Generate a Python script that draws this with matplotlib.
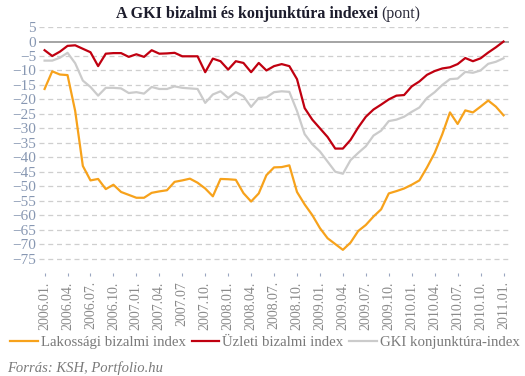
import numpy as np
import matplotlib
matplotlib.use("Agg")
import matplotlib.pyplot as plt

# monthly data, 2006.01 - 2011.01
lakossagi = [-16.4, -10.3, -11.4, -11.6, -24, -43, -48, -47.5, -51, -49.5,
             -52, -53, -54, -54, -52.3, -51.8, -51.4, -48.5, -48, -47.4,
             -48.8, -50.8, -53.5, -47.5, -47.6, -47.8, -52.4, -55.3, -52.5, -46.2,
             -43.5, -43.4, -42.8, -52, -56.3, -60, -64.5, -68, -70, -72,
             -69.5, -65.5, -63.4, -60.5, -58, -52.5, -51.7, -50.8, -49.5, -48,
             -43.5, -38.5, -32, -24.5, -28.5, -23.8, -24.5, -22.5, -20.4, -22.5,
             -25.5]
uzleti = [-3, -5, -3.5, -1.5, -1.3, -2.5, -3.7, -8.5, -4.2, -4,
          -4, -5.3, -4.4, -5.3, -3, -4.2, -4.1, -3.9, -5.1, -5.1,
          -5.1, -10.6, -5.9, -6.8, -9.7, -6.8, -7.4, -10.6, -7.4, -10,
          -8.5, -7.8, -8.5, -13, -23, -27, -30, -33, -37, -37,
          -34, -29.7, -26, -23.5, -21.8, -20, -18.7, -18.5, -15.5, -13.8,
          -11.5, -10.2, -9.3, -8.9, -7.8, -5.7, -6.8, -5.8, -3.8, -2,
          0]
gki = [-6.6, -6.6, -5.6, -3.9, -7.5, -13.5, -15.7, -18.7, -16, -16,
       -16.2, -17.8, -17.5, -18, -15.7, -16.4, -16.4, -15.5, -16, -16.2,
       -16.4, -21.2, -18.3, -17.2, -19.5, -17.5, -18.9, -22.6, -19.5, -19.3,
       -17.5, -17.2, -17.4, -24, -32, -35.5, -38, -41.5, -45, -45.7,
       -41, -38.5, -36.2, -32.5, -30.8, -27.5, -27, -26, -24.3, -22.8,
       -19.5, -17.5, -15, -13, -12.8, -10.5, -10.8, -10, -7.7, -7,
       -5.8]
tick_labels = ["2006.01.", "2006.04.", "2006.07.", "2006.10.", "2007.01.",
               "2007.04.", "2007.07", "2007.10.", "2008.01.", "2008.04.",
               "2008.07.", "2008.10.", "2009.01.", "2009.04.", "2009.07.",
               "2009.10.", "2010.01.", "2010.04.", "2010.07.", "2010.10.",
               "2011.01."]

plt.rcParams['font.family'] = ['Liberation Serif', 'DejaVu Serif']

fig = plt.figure(figsize=(5.25, 3.76), dpi=100)
ax = fig.add_axes([0.074, 0.274, 0.896, 0.654])

x = np.arange(len(lakossagi))
ax.plot(x, lakossagi, color='#f7a21b', lw=1.6, label='Lakossági bizalmi index', zorder=3)
ax.plot(x, uzleti, color='#c00010', lw=1.6, label='Üzleti bizalmi index', zorder=4)
ax.plot(x, gki, color='#cbcbcb', lw=1.6, label='GKI konjunktúra-index', zorder=2)

ax.set_xlim(-0.75, 60.75)
ax.set_ylim(-80, 5)
ax.set_yticks(np.arange(-75, 6, 5))
# dashed grid, solid zero line
for v in np.arange(-75, 6, 5):
    if v == 0:
        ax.axhline(0, color='#8c8c8c', lw=1.1, zorder=1)
    else:
        ax.axhline(v, color='#cfcfcf', lw=0.9, ls=(0, (4, 3)), zorder=1)

ax.set_xticks(np.arange(0, len(lakossagi), 3))
ax.set_xticklabels(tick_labels, rotation=90, fontsize=10, color='#8a8a8a')
ax.tick_params(axis='x', length=2, color='#9aa6c0', pad=4)
ax.tick_params(axis='y', length=0, labelsize=11, labelcolor='#8797b2', pad=2)
for s in ax.spines.values():
    s.set_visible(False)

# title: bold part + normal "(pont)"
fig.text(0.727, 0.962, "A GKI bizalmi és konjunktúra indexei ", ha='right', va='center',
         fontsize=11.5, fontweight='bold', color='#1c1c2c')
fig.text(0.727, 0.962, "(pont)", ha='left', va='center', fontsize=11.5, color='#2a2a3a')

fig.legend(loc='lower left', bbox_to_anchor=(0.008, 0.055), ncol=3, frameon=False,
           fontsize=10.7, handlelength=1.85, handletextpad=0.2, columnspacing=0.4,
           labelcolor='#7a7a7a', borderaxespad=0)
fig.text(0.013, 0.022, "Forrás: KSH, Portfolio.hu", fontsize=10.5, style='italic',
         color='#7a7a7a', va='center')

fig.savefig("out.png", dpi=100)
